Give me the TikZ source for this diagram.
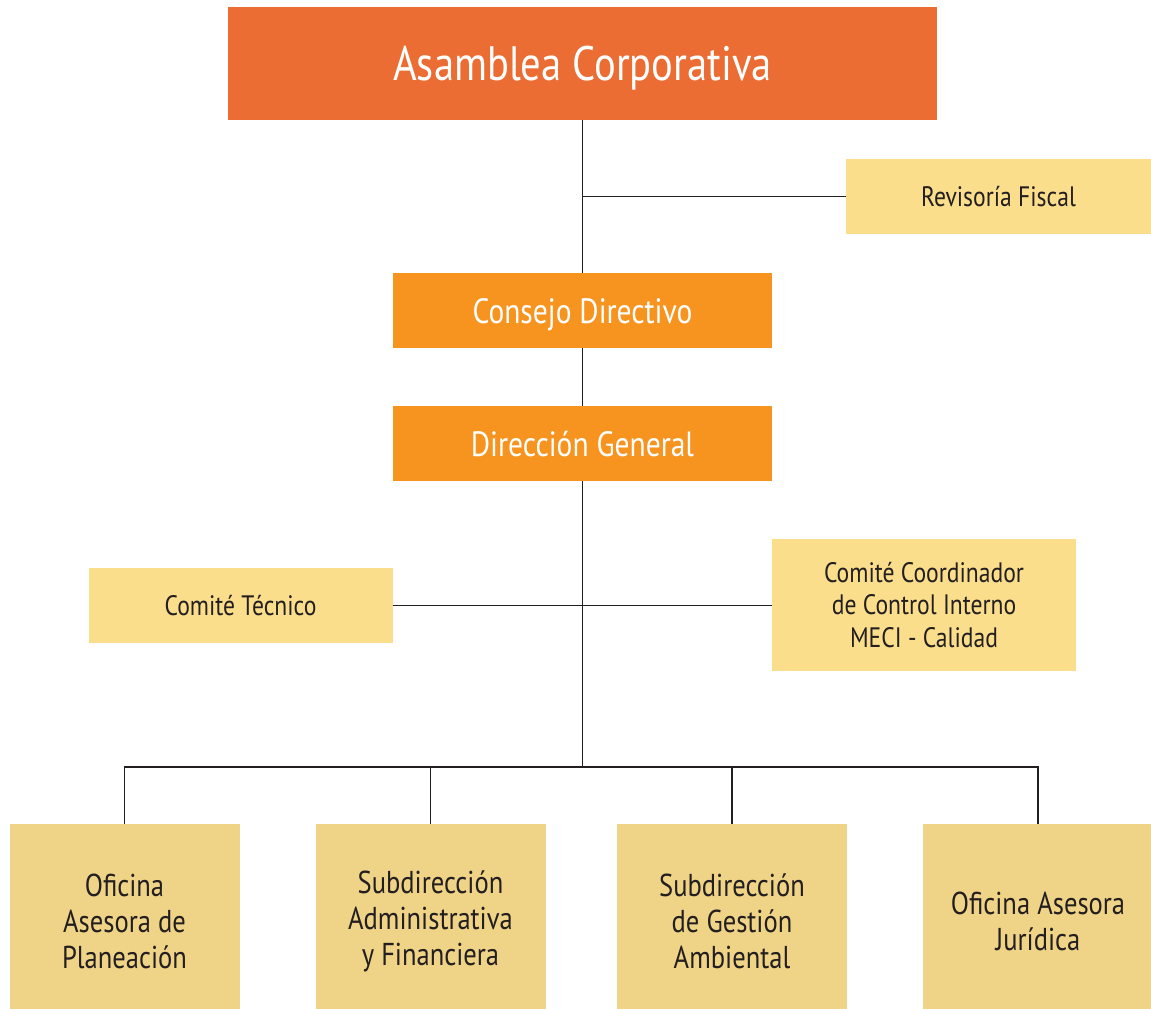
\documentclass[tikz,border=0pt]{standalone}
\usepackage{fontspec}
\setmainfont[FakeStretch=0.84]{PT Sans}
\usepackage{tikz}
\usetikzlibrary{positioning}

\definecolor{asamblea}{HTML}{EB6D33}
\definecolor{consejo}{HTML}{F7941F}
\definecolor{comite}{HTML}{FADE8C}
\definecolor{oficina}{HTML}{EFD386}
\definecolor{linea}{HTML}{231F20}

\begin{document}
\begin{tikzpicture}[
    orgline/.style={draw=linea, line width=1.1pt},
    topbox/.style={fill=asamblea, text=white, align=center,
                   minimum width=14.18cm, minimum height=2.26cm,
                   text depth=0pt, font=\fontsize{27.5}{32}\selectfont},
    midbox/.style={fill=consejo, text=white, align=center,
                   minimum width=7.58cm, minimum height=1.5cm,
                   text depth=0pt, font=\fontsize{20}{24}\selectfont},
    sidebox/.style={fill=comite, text=linea, align=center,
                    minimum width=6.08cm, minimum height=1.5cm,
                    font=\fontsize{16}{18.5}\selectfont},
    unitbox/.style={fill=oficina, text=linea, align=center,
                    minimum width=4.6cm, minimum height=3.9cm,
                    font=\fontsize{18}{20.6}\selectfont},
  ]
  \useasboundingbox (0,0) rectangle (23.02,-20.18);

  % ============ Row 0: Asamblea ============
  \node[topbox] (asamblea) at (11.65,-1.27) {Asamblea Corporativa};
  \node[sidebox, minimum width=6.1cm] (revisoria) at (19.97,-3.93) {Revisoría Fiscal};

  % ============ Rows 1-2 ============
  \node[midbox] (consejo) at (11.65,-6.21) {Consejo Directivo};
  \node[midbox] (direccion) at (11.65,-8.87) {Dirección General};

  % ============ Comites ============
  \node[sidebox] (tecnico) at (4.81,-12.11) {Comité Técnico};
  \node[sidebox, minimum height=2.64cm] (coordinador) at (18.48,-12.10) {
    Comité Coordinador\\
    de Control Interno\\
    MECI - Calidad
  };

  % ============ Bottom row (boxes run past the page foot) ============
  \node[unitbox] (planeacion) at (2.49,-18.43) {Oficina\\Asesora de\\Planeación};
  \node[unitbox] (admin) at (8.61,-18.43) {Subdirección\\Administrativa\\y Financiera};
  \node[unitbox] (gestion) at (14.64,-18.43) {Subdirección\\de Gestión\\Ambiental};
  \node[unitbox] (juridica) at (20.76,-18.43) {Oficina Asesora\\Jurídica};

  \coordinate (bus) at (11.65,-15.34);

  % ======== CONNECTIONS ========
  \draw[orgline] (asamblea.south) -- (consejo.north);
  \draw[orgline] (revisoria.west) -- (revisoria.west -| asamblea.south);
  \draw[orgline] (consejo.south) -- (direccion.north);
  \draw[orgline] (direccion.south) -- (bus);
  \draw[orgline] (tecnico.east) -- (tecnico.east -| coordinador.west);

  \draw[orgline] (planeacion.north) |- (juridica.north |- bus) -- (juridica.north);
  \draw[orgline] (admin.north) -- (admin.north |- bus);
  \draw[orgline] (gestion.north) -- (gestion.north |- bus);

\end{tikzpicture}
\end{document}
